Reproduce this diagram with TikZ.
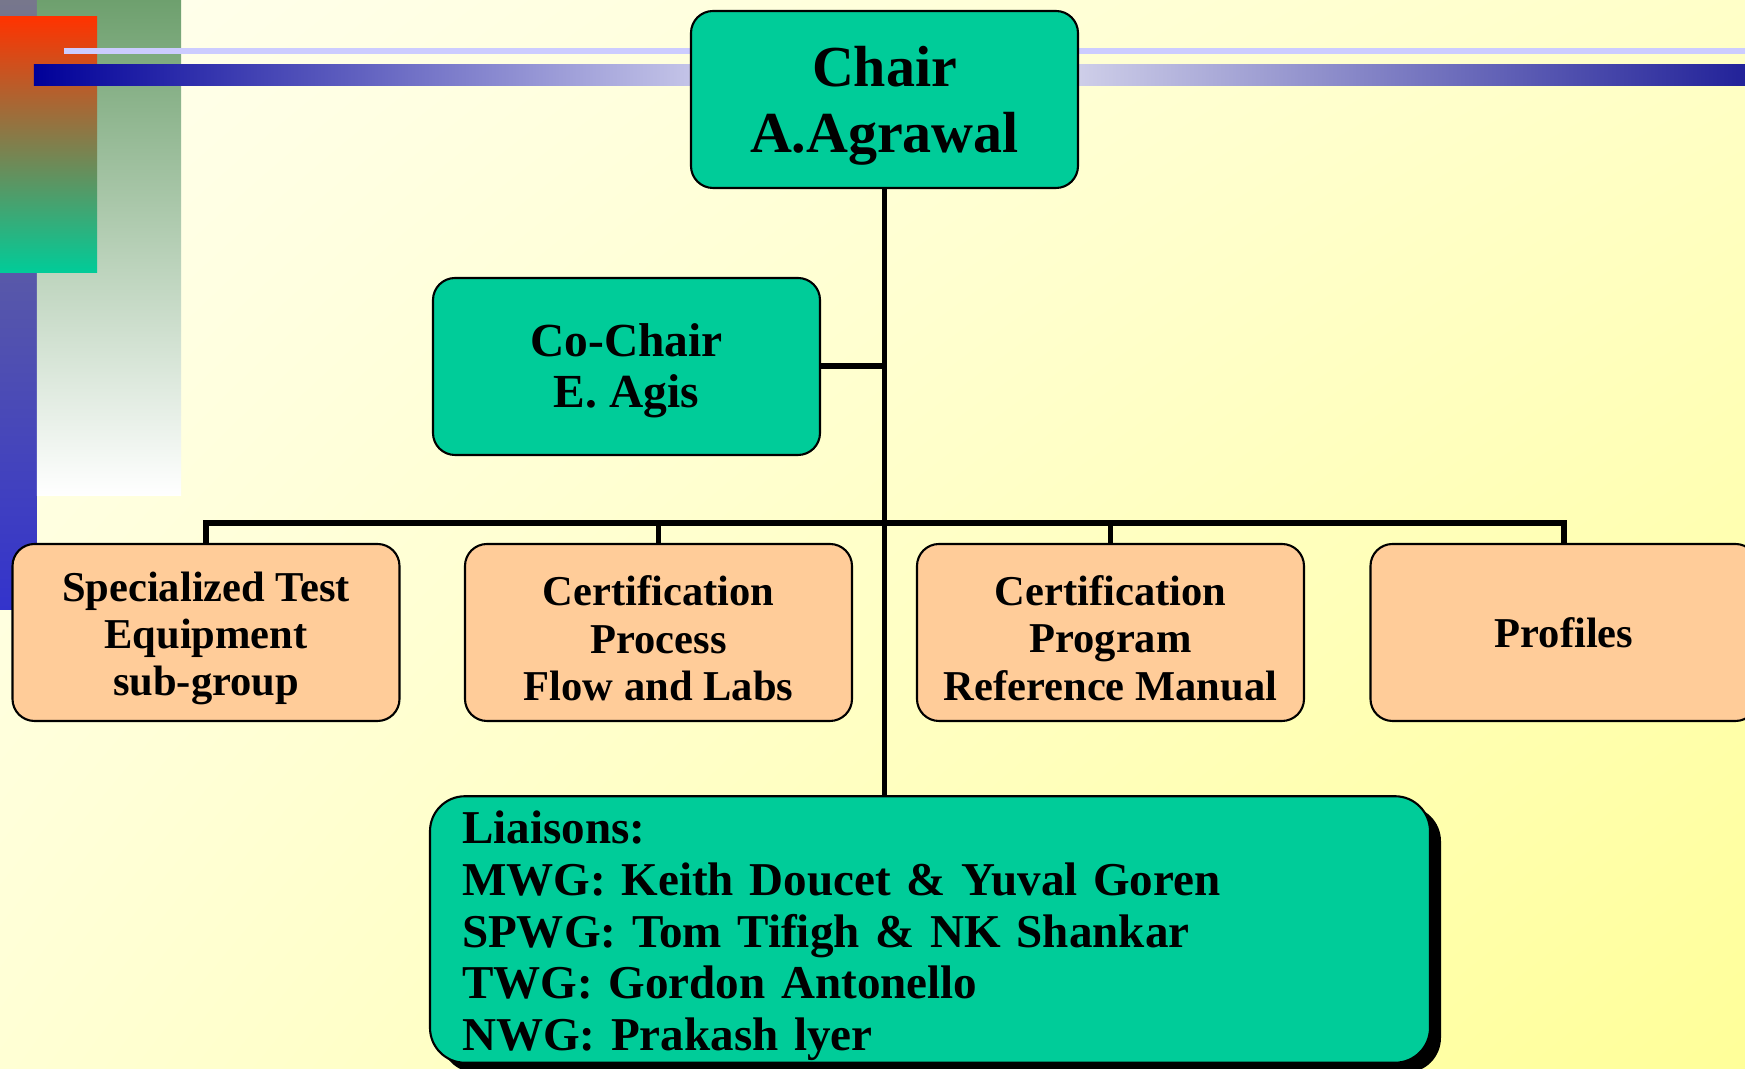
\documentclass[tikz,border=0pt]{standalone}
\usepackage{fontspec}
\setmainfont{Liberation Serif}
\usetikzlibrary{shadows,shadings}

\definecolor{chairgreen}{RGB}{0,204,153}
\definecolor{grouppeach}{RGB}{255,204,153}
\definecolor{bgtopleft}{RGB}{255,255,238}
\definecolor{bgtopright}{RGB}{255,255,200}
\definecolor{bgbotleft}{RGB}{255,255,212}
\definecolor{bgbotright}{RGB}{255,255,153}
\definecolor{barnavy}{RGB}{0,0,153}
\definecolor{barblue}{RGB}{34,34,153}
\definecolor{lavender}{RGB}{204,204,255}
\definecolor{sidegrey}{RGB}{119,119,140}
\definecolor{sideblue}{RGB}{51,51,204}
\definecolor{sidegreen}{RGB}{110,160,110}
\definecolor{sidered}{RGB}{255,51,0}

\begin{document}
\begin{tikzpicture}[
    box/.style={draw=black, line width=0.6pt, rounded corners=0.22cm, minimum width=3.87cm, minimum height=1.77cm, align=center, inner sep=0pt},
    chairbox/.style={box, fill=chairgreen, text height=33.7pt, font=\bfseries\fontsize{16.5}{18.6}\selectfont},
    cochairbox/.style={box, fill=chairgreen, text height=26.3pt, font=\bfseries\fontsize{13.5}{14.6}\selectfont},
    groupbox/.style={box, fill=grouppeach, text height=38.6pt, font=\bfseries\fontsize{12.1}{13.4}\selectfont},
    liaisonbox/.style={draw=black, line width=0.6pt, rounded corners=0.35cm, fill=chairgreen, minimum height=2.63cm, text width=9.36cm, align=left, inner xsep=0.32cm, inner ysep=0.02cm, text height=13pt, font=\bfseries\fontsize{13.4}{14.7}\selectfont, drop shadow={fill=black, opacity=1, shadow xshift=0.11cm, shadow yshift=-0.1cm}},
    edge/.style={draw=black, line width=1.7pt}]

    \clip (0,0) rectangle (17.45,-10.69);

    % Background
    \shade[upper left=bgtopleft, upper right=bgtopright, lower left=bgbotleft, lower right=bgbotright] (0,0) rectangle (17.45,-10.69);

    % Side and top bars
    \shade[top color=sidegrey, bottom color=sideblue] (0,0) rectangle (0.37,-6.10);
    \shade[top color=sidegreen, bottom color=white] (0.37,0) rectangle (1.81,-4.96);
    \shade[top color=sidered, bottom color=chairgreen] (0,-0.17) rectangle (0.97,-2.73);
    \fill[lavender] (0.64,-0.48) rectangle (17.45,-0.54);
    \shade[left color=barnavy, right color=barblue, middle color=white] (0.34,-0.65) rectangle (17.45,-0.86);

    % Nodes
    \node[chairbox] (chair) at (8.845,-0.995) {Chair\\A.Agrawal};
    \node[cochairbox] (cochair) at (6.265,-3.665) {Co-Chair\\E. Agis};
    \node[groupbox] (ste) at (2.06,-6.325) {Specialized Test\\Equipment\\sub-group};
    \node[groupbox] (cpf) at (6.585,-6.325) {Certification\\Process\\Flow and Labs};
    \node[groupbox] (cprm) at (11.105,-6.325) {Certification\\Program\\Reference Manual};
    \node[groupbox, text height={}] (prof) at (15.64,-6.325) {Profiles};
    \node[liaisonbox] (liaison) at (9.30,-9.295) {Liaisons:\\MWG: Keith Doucet \& Yuval Goren\\SPWG: Tom Tifigh \& NK Shankar\\TWG: Gordon Antonello\\NWG: Prakash lyer};
    \coordinate (bus) at (8.845,-5.23);

    % Connectors
    \draw[edge] (chair.south) -- (chair.south |- liaison.north);
    \draw[edge] (cochair.east) -- (cochair.east -| chair.south);
    \draw[edge] (ste.north) |- (bus) -| (prof.north);
    \draw[edge] (cpf.north) -- (cpf.north |- bus);
    \draw[edge] (cprm.north) -- (cprm.north |- bus);

\end{tikzpicture}
\end{document}
